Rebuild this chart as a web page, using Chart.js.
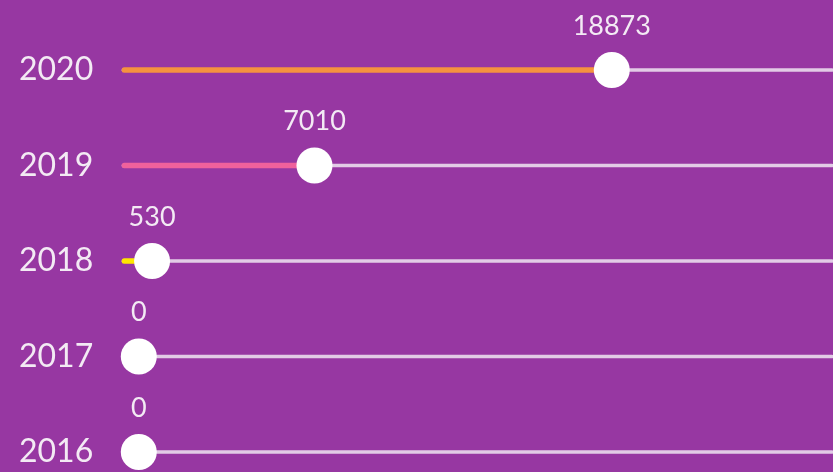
<!DOCTYPE html>
<html>
<head>
<meta charset="utf-8">
<title>Yearly totals</title>
<script src="https://cdn.jsdelivr.net/npm/chart.js@4.4.1/dist/chart.umd.min.js"></script>
<style>
    html, body { margin: 0; padding: 0; background: #9737a2; }
    #wrap { width: 833px; height: 472px; }
</style>
</head>
<body>
<div id="wrap"><canvas id="sliderChart"></canvas></div>
<script>
// Data
const years = ['2020', '2019', '2018', '2017', '2016'];
const totals = [18873, 7010, 530, 0, 0];
const fillColors = ['#f5923e', '#f0619c', '#ffe600', '#ffffff', '#ffffff'];

// Axis limits (track runs the full width of the chart area)
const axisMin = -670;
const axisMax = 27700;

const BG = '#9737a2';
const TRACK = '#e2cbe6';

// Paint the purple background
const backgroundPlugin = {
    id: 'background',
    beforeDraw(chart) {
        const ctx = chart.ctx;
        ctx.save();
        ctx.fillStyle = BG;
        ctx.fillRect(0, 0, chart.width, chart.height);
        ctx.restore();
    }
};

// Value labels above each knob
const valueLabels = {
    id: 'valueLabels',
    afterDatasetsDraw(chart) {
        const ctx = chart.ctx;
        const meta = chart.getDatasetMeta(0);
        ctx.save();
        ctx.font = '27px Lato';
        ctx.fillStyle = '#f3eaf4';
        ctx.textAlign = 'center';
        ctx.textBaseline = 'middle';
        meta.data.forEach((pt, i) => {
            ctx.fillText(String(totals[i]), pt.x, pt.y - 44);
        });
        ctx.restore();
    }
};

const ctx = document.getElementById('sliderChart').getContext('2d');

new Chart(ctx, {
    type: 'bar',
    data: {
        labels: years,
        datasets: [
            {
                // knobs
                type: 'line',
                data: totals,
                showLine: false,
                pointRadius: 18,
                pointHoverRadius: 18,
                pointBackgroundColor: '#ffffff',
                pointBorderWidth: 0,
                clip: false
            },
            {
                // coloured part of the slider
                data: totals.map(v => [axisMin, v]),
                backgroundColor: fillColors,
                barThickness: 5,
                borderRadius: 3,
                borderSkipped: false,
                grouped: false,
                clip: false
            },
            {
                // white track
                data: years.map(() => [axisMin, axisMax]),
                backgroundColor: TRACK,
                barThickness: 3,
                borderRadius: 2,
                borderSkipped: false,
                grouped: false,
                clip: false
            }
        ]
    },
    options: {
        indexAxis: 'y',
        responsive: true,
        maintainAspectRatio: false,
        animation: false,
        layout: {
            autoPadding: false,
            padding: { top: 70, bottom: 20, left: 19, right: 0 }
        },
        plugins: {
            legend: { display: false },
            tooltip: { enabled: false }
        },
        scales: {
            x: {
                display: false,
                min: axisMin,
                max: axisMax
            },
            y: {
                offset: false,
                grid: { display: false },
                border: { display: false },
                ticks: {
                    color: '#f3eaf4',
                    crossAlign: 'far',
                    padding: 0,
                    font: { family: 'Lato', size: 32 }
                },
                afterFit(scale) {
                    scale.width = 103;
                }
            }
        }
    },
    plugins: [backgroundPlugin, valueLabels]
});
</script>
</body>
</html>
